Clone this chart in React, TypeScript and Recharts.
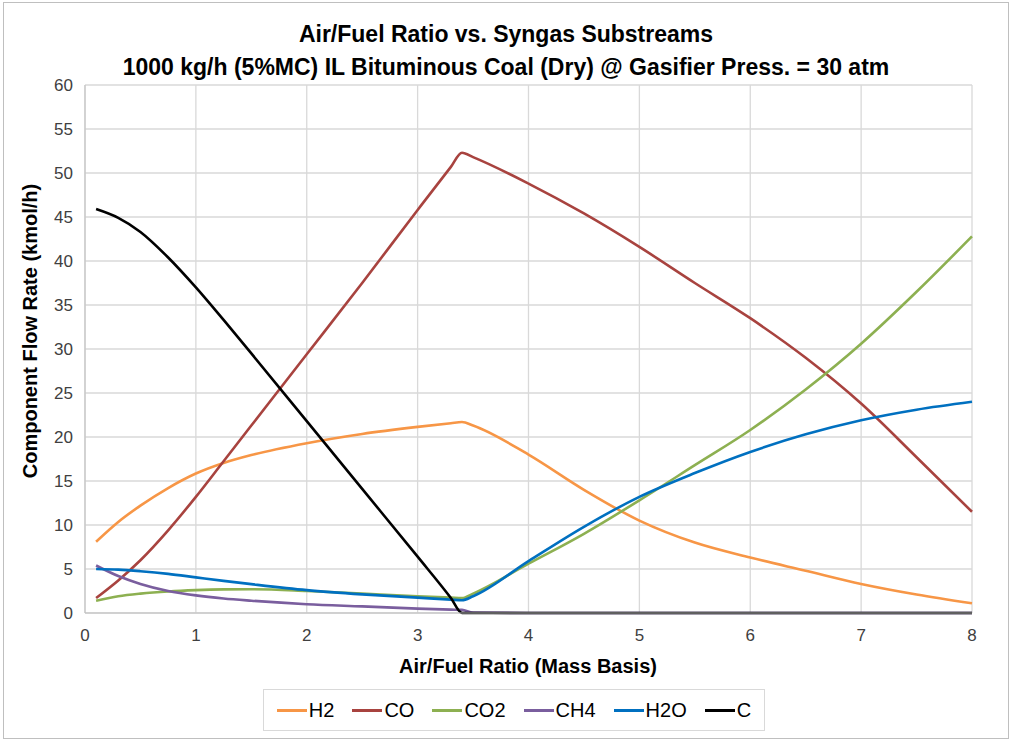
import { LineChart, Line, XAxis, YAxis, CartesianGrid } from 'recharts'

const RATIO = [0.1, 0.3, 0.5, 0.75, 1, 1.25, 1.5, 2, 2.5, 3, 3.3, 3.4, 3.5, 4, 4.5, 5, 5.5, 6, 6.5, 7, 7.5, 8]
const H2 = [8.1, 10.35, 12.2, 14.2, 15.85, 17.05, 17.95, 19.3, 20.35, 21.15, 21.57, 21.7, 21.3, 18.0, 14.0, 10.5, 8.0, 6.3, 4.8, 3.3, 2.1, 1.1]
const CO = [1.7, 3.7, 6.0, 9.4, 13.2, 17.25, 21.3, 29.4, 37.5, 45.8, 50.7, 52.3, 51.8, 48.8, 45.4, 41.6, 37.5, 33.5, 29.0, 23.8, 17.7, 11.5]
const CO2 = [1.4, 1.9, 2.2, 2.45, 2.6, 2.68, 2.7, 2.5, 2.2, 1.9, 1.75, 1.7, 2.2, 5.6, 9.0, 12.8, 16.8, 20.8, 25.4, 30.6, 36.5, 42.8]
const CH4 = [5.4, 4.2, 3.3, 2.5, 2.0, 1.65, 1.4, 1.0, 0.75, 0.5, 0.38, 0.35, 0.05, 0, 0, 0, 0, 0, 0, 0, 0, 0]
const H2O = [5.0, 4.93, 4.75, 4.45, 4.05, 3.65, 3.28, 2.6, 2.12, 1.75, 1.52, 1.45, 1.9, 5.9, 9.8, 13.2, 15.9, 18.3, 20.3, 21.9, 23.1, 24.0]
const C = [45.9, 44.9, 43.3, 40.4, 37.0, 33.3, 29.5, 21.8, 14.1, 6.4, 1.7, 0, 0, 0, 0, 0, 0, 0, 0, 0, 0, 0]

const X_TICKS = [0, 1, 2, 3, 4, 5, 6, 7, 8]
const Y_TICKS = [0, 5, 10, 15, 20, 25, 30, 35, 40, 45, 50, 55, 60]

const SERIES = [
  { key: 'H2', name: 'H2', values: H2, color: '#F79646' },
  { key: 'CO', name: 'CO', values: CO, color: '#A8433F' },
  { key: 'CO2', name: 'CO2', values: CO2, color: '#8DB051' },
  { key: 'CH4', name: 'CH4', values: CH4, color: '#7A5E9E' },
  { key: 'H2O', name: 'H2O', values: H2O, color: '#0070C0' },
  { key: 'C', name: 'C', values: C, color: '#000000' },
]

const data = RATIO.map((x, i) => {
  const row: Record<string, number> = { x }
  SERIES.forEach((s) => { row[s.key] = s.values[i] })
  return row
})

const FONT = '"Liberation Sans", Arial, sans-serif'
const TICK = { fill: '#404040', fontSize: 17, fontFamily: FONT }

export default function App() {
  return (
    <div style={{ position: 'absolute', left: 0, top: 0, width: 1012, height: 740, background: '#fff', fontFamily: FONT }}>
      <div style={{ position: 'absolute', left: 3, top: 2, width: 1004, height: 735, border: '1px solid #bfbfbf' }} />
      <div style={{ position: 'absolute', left: 0, top: 18, width: 1012, textAlign: 'center', fontWeight: 'bold', fontSize: 23, color: '#000', lineHeight: '33px' }}>
        <div>Air/Fuel Ratio vs. Syngas Substreams</div>
        <div>1000 kg/h (5%MC) IL Bituminous Coal (Dry) @ Gasifier Press. = 30 atm</div>
      </div>
      <div style={{ position: 'absolute', left: 0, top: 0 }}>
        <LineChart width={1012} height={740} data={data} margin={{ top: 85, right: 40, bottom: 97, left: 35 }}>
          <CartesianGrid stroke="#d9d9d9" strokeWidth={1.3} />
          <XAxis
            dataKey="x"
            type="number"
            domain={[0, 8]}
            ticks={X_TICKS}
            height={30}
            tickLine={false}
            axisLine={{ stroke: '#bfbfbf' }}
            tick={TICK}
            tickMargin={10}
          />
          <YAxis
            type="number"
            domain={[0, 60]}
            ticks={Y_TICKS}
            width={50}
            tickLine={false}
            axisLine={{ stroke: '#bfbfbf' }}
            tick={TICK}
            tickMargin={6}
          />
          {SERIES.map((s) => (
            <Line
              key={s.key}
              dataKey={s.key}
              name={s.name}
              type="monotone"
              stroke={s.color}
              strokeWidth={2.6}
              dot={false}
              isAnimationActive={false}
            />
          ))}
        </LineChart>
      </div>
      <div style={{ position: 'absolute', left: 57, top: 655, width: 942, textAlign: 'center', fontWeight: 'bold', fontSize: 20, color: '#000' }}>
        Air/Fuel Ratio (Mass Basis)
      </div>
      <div style={{ position: 'absolute', left: 30, top: 331, width: 0, height: 0 }}>
        <div style={{ position: 'absolute', left: 0, top: 0, transform: 'translate(-50%, -50%) rotate(-90deg)', whiteSpace: 'nowrap', fontWeight: 'bold', fontSize: 20, color: '#000' }}>
          Component Flow Rate (kmol/h)
        </div>
      </div>
      <div style={{ position: 'absolute', left: 263, top: 689, width: 502, height: 42, border: '1px solid #d9d9d9', display: 'flex', alignItems: 'center', justifyContent: 'center', gap: 18, boxSizing: 'border-box' }}>
        {SERIES.map((s) => (
          <div key={s.key} style={{ display: 'flex', alignItems: 'center', gap: 2 }}>
            <div style={{ width: 30, height: 3, background: s.color }} />
            <span style={{ fontSize: 20, color: '#000' }}>{s.name}</span>
          </div>
        ))}
      </div>
    </div>
  )
}
